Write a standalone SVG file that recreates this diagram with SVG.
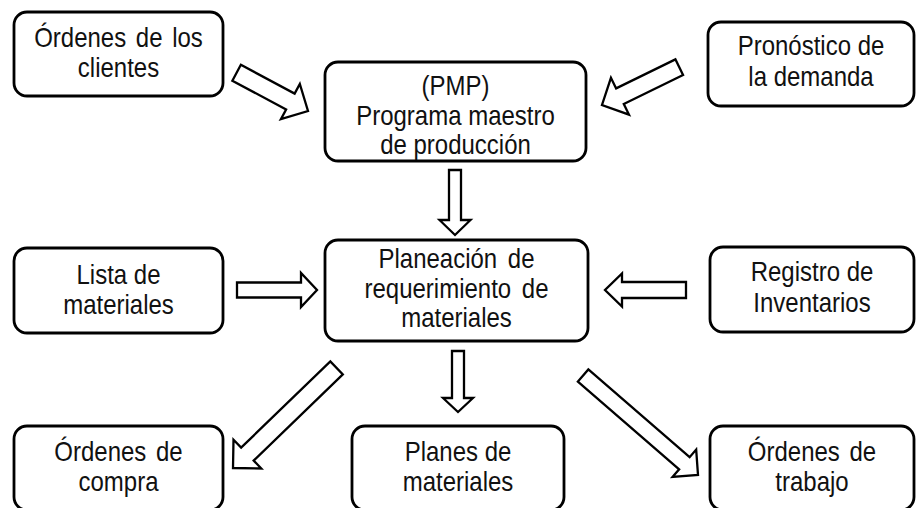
<svg xmlns="http://www.w3.org/2000/svg" width="916" height="508" viewBox="0 0 916 508">
<style>
.box{fill:#fff;stroke:#000;stroke-width:2.8}
.arr{fill:#fff;stroke:#000;stroke-width:2.3;stroke-linejoin:miter}
text{font-family:"Liberation Sans",Arial,sans-serif;font-size:24px;fill:#111;text-anchor:middle}
</style>
<rect width="916" height="508" fill="#fff"/>
<g id="ordenes-clientes">
<rect class="box" x="14" y="12" width="209" height="84" rx="13"/>
<text transform="translate(118.5,47) scale(1,1.12)" word-spacing="3">Órdenes de los</text>
<text transform="translate(118.5,77) scale(1,1.12)">clientes</text>
</g>
<g id="pmp">
<rect class="box" x="325" y="62" width="261" height="99" rx="13"/>
<text transform="translate(455.5,95) scale(1,1.12)">(PMP)</text>
<text transform="translate(455.5,124.5) scale(1,1.12)">Programa maestro</text>
<text transform="translate(455.5,153.5) scale(1,1.12)">de producción</text>
</g>
<g id="pronostico">
<rect class="box" x="708" y="22" width="206" height="84" rx="13"/>
<text transform="translate(811,55) scale(1,1.12)">Pronóstico de</text>
<text transform="translate(811,86) scale(1,1.12)">la demanda</text>
</g>
<g id="lista">
<rect class="box" x="14" y="248" width="209" height="85" rx="13"/>
<text transform="translate(118.5,284) scale(1,1.12)">Lista de</text>
<text transform="translate(118.5,314) scale(1,1.12)">materiales</text>
</g>
<g id="planeacion">
<rect class="box" x="325" y="240" width="263" height="101" rx="13"/>
<text transform="translate(456.5,268) scale(1,1.12)" word-spacing="4">Planeación de</text>
<text transform="translate(456.5,298) scale(1,1.12)" word-spacing="4">requerimiento de</text>
<text transform="translate(456.5,327) scale(1,1.12)">materiales</text>
</g>
<g id="registro">
<rect class="box" x="710" y="247" width="204" height="85" rx="13"/>
<text transform="translate(812,281) scale(1,1.12)">Registro de</text>
<text transform="translate(812,312) scale(1,1.12)">Inventarios</text>
</g>
<g id="ordenes-compra">
<rect class="box" x="14" y="426" width="209" height="84" rx="13"/>
<text transform="translate(118.5,461) scale(1,1.12)" word-spacing="3">Órdenes de</text>
<text transform="translate(118.5,491) scale(1,1.12)">compra</text>
</g>
<g id="planes">
<rect class="box" x="352" y="426" width="212" height="84" rx="13"/>
<text transform="translate(458,461) scale(1,1.12)">Planes de</text>
<text transform="translate(458,491) scale(1,1.12)">materiales</text>
</g>
<g id="ordenes-trabajo">
<rect class="box" x="710" y="426" width="204" height="84" rx="13"/>
<text transform="translate(812,461) scale(1,1.12)" word-spacing="3">Órdenes de</text>
<text transform="translate(812,491) scale(1,1.12)">trabajo</text>
</g>
<g id="connectors">
<polygon class="arr" transform="translate(308,111) rotate(28.2)" points="-81,-9 -20,-9 -20,-20 0,0 -20,20 -20,9 -81,9"/>
<polygon class="arr" transform="translate(602,105) rotate(153.9)" points="-86,-8.7 -20,-8.7 -20,-20.5 0,0 -20,20.5 -20,8.7 -86,8.7"/>
<polygon class="arr" transform="translate(455,235) rotate(90)" points="-65,-6 -15,-6 -15,-15.5 0,0 -15,15.5 -15,6 -65,6"/>
<polygon class="arr" transform="translate(317,290)" points="-80,-7.5 -16,-7.5 -16,-17 0,0 -16,17 -16,7.5 -80,7.5"/>
<polygon class="arr" transform="translate(605,290) rotate(180)" points="-81,-8 -17,-8 -17,-16.5 0,0 -17,16.5 -17,8 -81,8"/>
<polygon class="arr" transform="translate(233,468) rotate(136)" points="-144,-9 -20,-9 -20,-20 0,0 -20,20 -20,9 -144,9"/>
<polygon class="arr" transform="translate(458,412) rotate(90)" points="-61,-6 -14,-6 -14,-15 0,0 -14,15 -14,6 -61,6"/>
<polygon class="arr" transform="translate(698,475) rotate(40.9)" points="-152,-8 -18,-8 -18,-18 0,0 -18,18 -18,8 -152,8"/>
</g>
</svg>
